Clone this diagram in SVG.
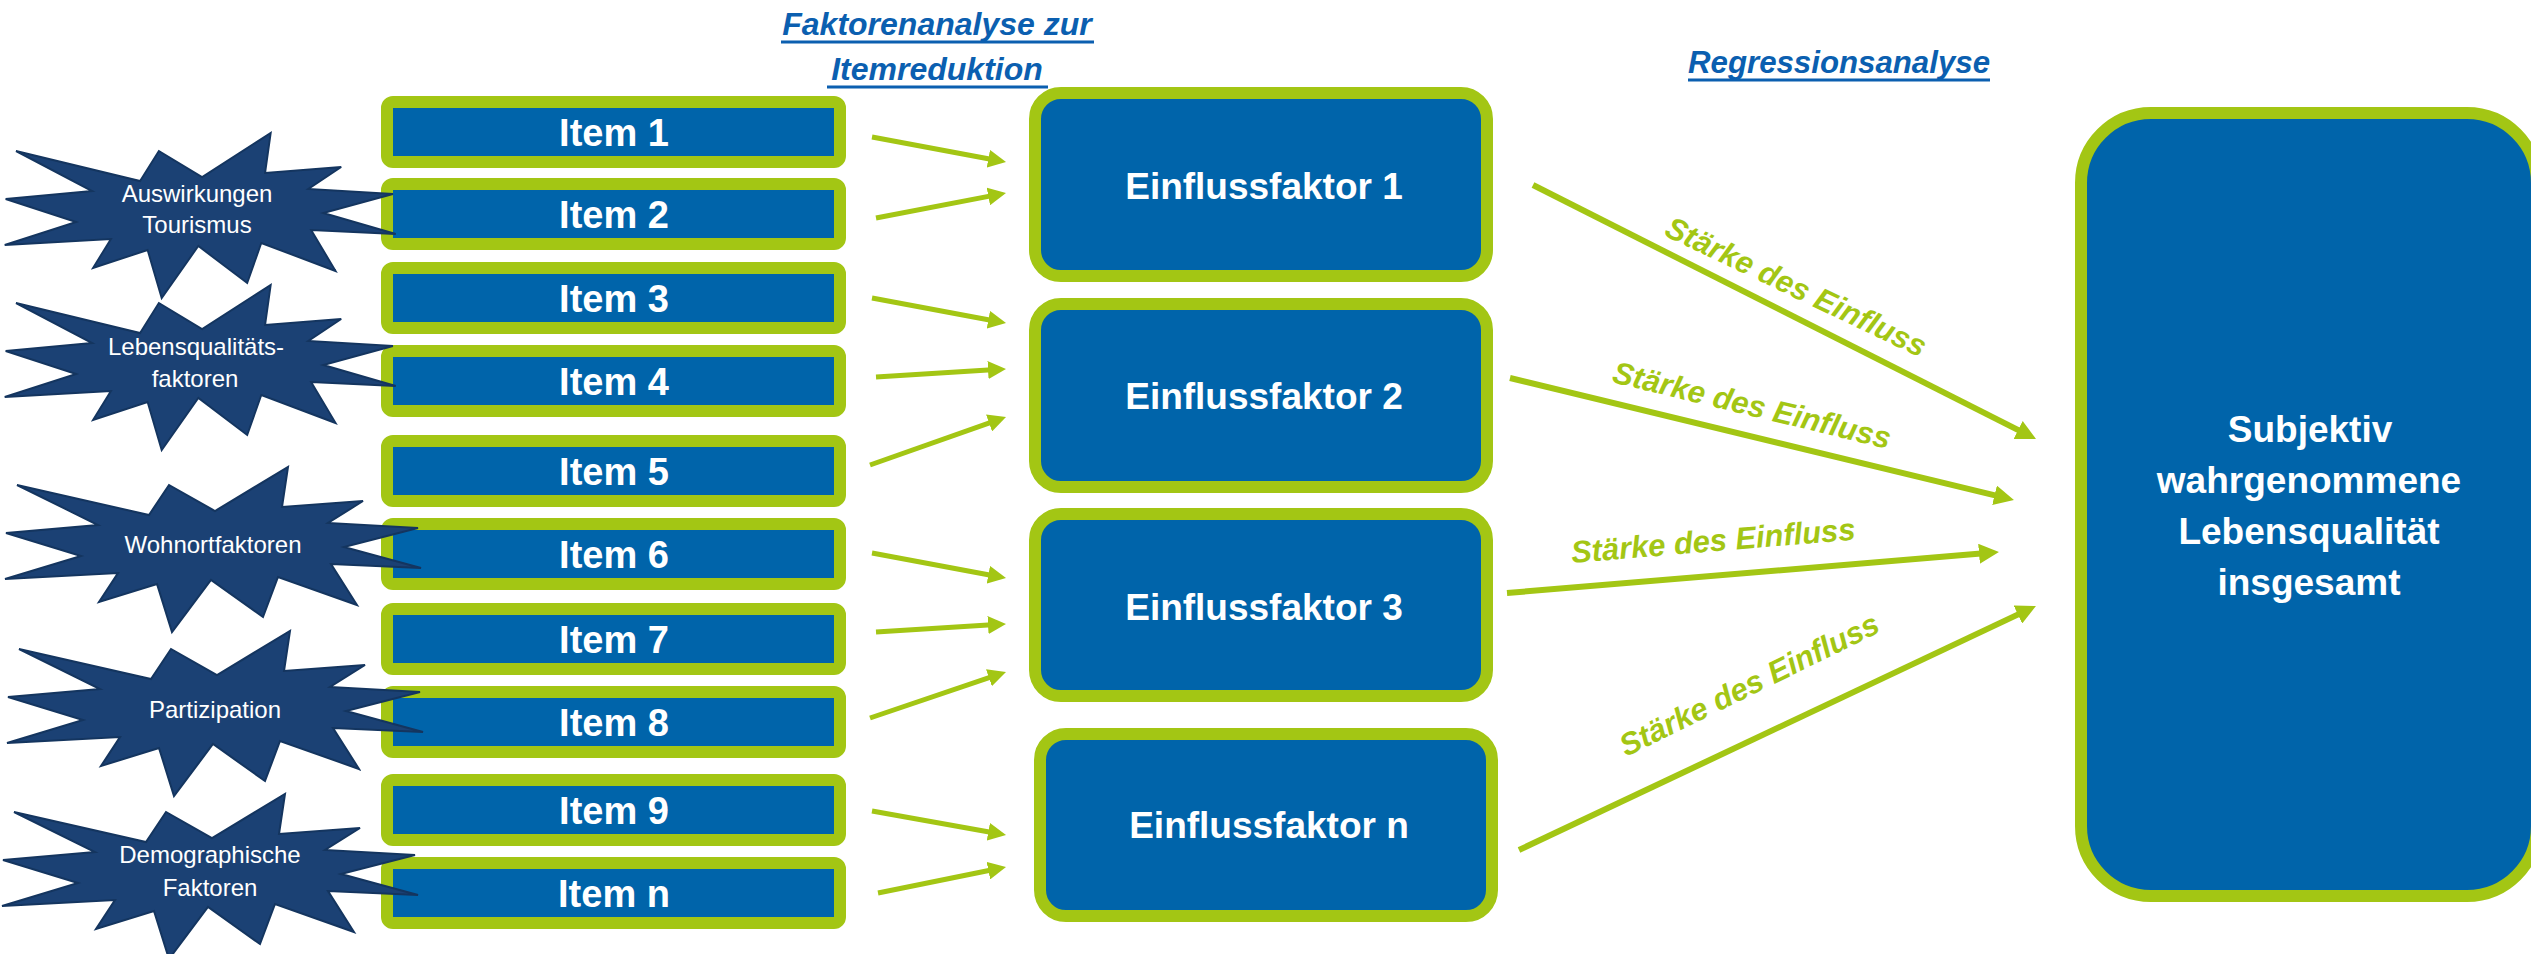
<svg xmlns="http://www.w3.org/2000/svg" width="2531" height="954" viewBox="0 0 2531 954">
<style>
.item{fill:#0064AA;stroke:#A3C614;stroke-width:12}
.ef{fill:#0064AA;stroke:#A3C614;stroke-width:12}
.itxt{font-family:"Liberation Sans",Arial,sans-serif;font-weight:bold;font-size:38px;fill:#fff;text-anchor:middle}
.etxt{font-family:"Liberation Sans",Arial,sans-serif;font-weight:bold;font-size:37px;fill:#fff;text-anchor:middle}
.stxt{font-family:"Liberation Sans",Arial,sans-serif;font-size:24px;fill:#fff;text-anchor:middle}
.star{fill:#1B4174;stroke:#14355F;stroke-width:2;stroke-linejoin:miter}
.title{font-family:"Liberation Sans",Arial,sans-serif;font-weight:bold;font-style:italic;font-size:32px;fill:#0B5FB0;text-anchor:middle}
.uline{stroke:#0B5FB0;stroke-width:3}
.lbl{font-family:"Liberation Sans",Arial,sans-serif;font-weight:bold;font-style:italic;font-size:31px;fill:#A3C614}
.arrL{stroke:#A3C614;stroke-width:5;fill:none;marker-end:url(#headS)}
.arrR{stroke:#A3C614;stroke-width:6;fill:none;marker-end:url(#headL)}
.big{font-family:"Liberation Sans",Arial,sans-serif;font-weight:bold;font-size:37px;fill:#fff;text-anchor:middle}
</style>
<defs>
<marker id="headS" viewBox="0 0 18 18" refX="8" refY="9" markerWidth="18" markerHeight="18" markerUnits="userSpaceOnUse" orient="auto">
<path d="M0,0 L18,9 L0,18 z" fill="#A3C614"/>
</marker>
<marker id="headL" viewBox="0 0 20 20" refX="8" refY="10" markerWidth="20" markerHeight="20" markerUnits="userSpaceOnUse" orient="auto">
<path d="M0,0 L20,10 L0,20 z" fill="#A3C614"/>
</marker>
<polygon id="starShape" points="17,15 149,45 169,15 215,41 288,-3 282,37 363,31 328,53 418,58 344,77 421,98 331,94 357,135 278,107 263,147 211,110 172,162 157,114 99,132 118,103 5,109 81,86 6,63 98,55"/>
</defs>
<rect width="2531" height="954" fill="#fff"/>

<g id="titles">
<text class="title" x="937" y="35">Faktorenanalyse zur</text>
<line class="uline" x1="781" y1="42" x2="1094" y2="42"/>
<text class="title" x="937" y="80">Itemreduktion</text>
<line class="uline" x1="827" y1="87" x2="1048" y2="87"/>
<text class="title" x="1839" y="73" font-size="29" textLength="302" lengthAdjust="spacingAndGlyphs">Regressionsanalyse</text>
<line class="uline" x1="1688" y1="80" x2="1990" y2="80"/>
</g>

<g id="item1"><rect class="item" x="387" y="102" width="453" height="60" rx="6"/><text class="itxt" x="614" y="146">Item 1</text></g>
<g id="item2"><rect class="item" x="387" y="184" width="453" height="60" rx="6"/><text class="itxt" x="614" y="228">Item 2</text></g>
<g id="item3"><rect class="item" x="387" y="268" width="453" height="60" rx="6"/><text class="itxt" x="614" y="312">Item 3</text></g>
<g id="item4"><rect class="item" x="387" y="351" width="453" height="60" rx="6"/><text class="itxt" x="614" y="395">Item 4</text></g>
<g id="item5"><rect class="item" x="387" y="441" width="453" height="60" rx="6"/><text class="itxt" x="614" y="485">Item 5</text></g>
<g id="item6"><rect class="item" x="387" y="524" width="453" height="60" rx="6"/><text class="itxt" x="614" y="568">Item 6</text></g>
<g id="item7"><rect class="item" x="387" y="609" width="453" height="60" rx="6"/><text class="itxt" x="614" y="653">Item 7</text></g>
<g id="item8"><rect class="item" x="387" y="692" width="453" height="60" rx="6"/><text class="itxt" x="614" y="736">Item 8</text></g>
<g id="item9"><rect class="item" x="387" y="780" width="453" height="60" rx="6"/><text class="itxt" x="614" y="824">Item 9</text></g>
<g id="itemn"><rect class="item" x="387" y="863" width="453" height="60" rx="6"/><text class="itxt" x="614" y="907">Item n</text></g>

<g id="star1"><use href="#starShape" class="star" transform="translate(0,136) scale(0.94,1)"/><text class="stxt" x="197" y="202">Auswirkungen</text><text class="stxt" x="197" y="233">Tourismus</text></g>
<g id="star2"><use href="#starShape" class="star" transform="translate(0,288) scale(0.94,1)"/><text class="stxt" x="196" y="355">Lebensqualitäts-</text><text class="stxt" x="195" y="387">faktoren</text></g>
<g id="star3"><use href="#starShape" class="star" transform="translate(0,470)"/><text class="stxt" x="213" y="553">Wohnortfaktoren</text></g>
<g id="star4"><use href="#starShape" class="star" transform="translate(2,634)"/><text class="stxt" x="215" y="718">Partizipation</text></g>
<g id="star5"><use href="#starShape" class="star" transform="translate(-3,797)"/><text class="stxt" x="210" y="863">Demographische</text><text class="stxt" x="210" y="896">Faktoren</text></g>

<g id="ef1"><rect class="ef" x="1035" y="93" width="452" height="183" rx="26"/><text class="etxt" x="1264" y="199">Einflussfaktor 1</text></g>
<g id="ef2"><rect class="ef" x="1035" y="304" width="452" height="183" rx="26"/><text class="etxt" x="1264" y="409">Einflussfaktor 2</text></g>
<g id="ef3"><rect class="ef" x="1035" y="514" width="452" height="182" rx="26"/><text class="etxt" x="1264" y="620">Einflussfaktor 3</text></g>
<g id="efn"><rect class="ef" x="1040" y="734" width="452" height="182" rx="26"/><text class="etxt" x="1269" y="838">Einflussfaktor n</text></g>

<g id="result"><rect class="ef" x="2081" y="113" width="456" height="783" rx="70"/>
<text class="big" x="2310" y="442">Subjektiv</text>
<text class="big" x="2309" y="493">wahrgenommene</text>
<text class="big" x="2309" y="544">Lebensqualität</text>
<text class="big" x="2309" y="595">insgesamt</text>
</g>

<g id="connectors">
<line class="arrL" x1="872" y1="137" x2="996.2" y2="160.2"/>
<line class="arrL" x1="876" y1="218" x2="996.2" y2="194.9"/>
<line class="arrL" x1="872" y1="298" x2="996.2" y2="321.2"/>
<line class="arrL" x1="876" y1="377" x2="996" y2="369.6"/>
<line class="arrL" x1="870" y1="465" x2="996.6" y2="420.3"/>
<line class="arrL" x1="872" y1="553" x2="996.2" y2="576.2"/>
<line class="arrL" x1="876" y1="632" x2="996" y2="624.6"/>
<line class="arrL" x1="870" y1="718" x2="996.5" y2="675.2"/>
<line class="arrL" x1="872" y1="811" x2="996.2" y2="833.2"/>
<line class="arrL" x1="878" y1="893" x2="996.2" y2="869"/>
<line class="arrR" x1="1533" y1="185" x2="2025.3" y2="433.6"/>
<line class="arrR" x1="1510" y1="378" x2="2002.3" y2="497.2"/>
<line class="arrR" x1="1507" y1="593" x2="1987" y2="553"/>
<line class="arrR" x1="1519" y1="850" x2="2025.1" y2="611.1"/>
<text class="lbl" transform="translate(1663,235) rotate(25.5)" textLength="285" lengthAdjust="spacingAndGlyphs">Stärke des Einfluss</text>
<text class="lbl" transform="translate(1611,382) rotate(13.6)" textLength="285" lengthAdjust="spacingAndGlyphs">Stärke des Einfluss</text>
<text class="lbl" transform="translate(1572,563) rotate(-4.7)" textLength="285" lengthAdjust="spacingAndGlyphs">Stärke des Einfluss</text>
<text class="lbl" transform="translate(1626,757) rotate(-26.2)" textLength="285" lengthAdjust="spacingAndGlyphs">Stärke des Einfluss</text>
</g>
</svg>
